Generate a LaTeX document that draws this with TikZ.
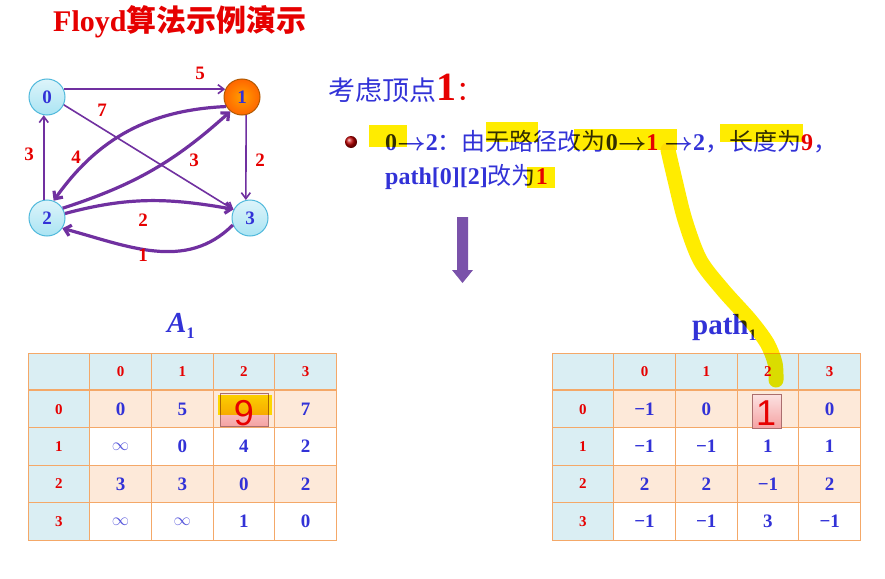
\documentclass[tikz,border=0pt]{standalone}
\usepackage{fontspec}
\setmainfont{Liberation Serif}
\newfontfamily\cjk{Noto Sans CJK SC}
\newfontfamily\sansnum{Liberation Sans}
\usepackage{tikz}
\usetikzlibrary{arrows.meta,calc}

\definecolor{edgepurple}{RGB}{112,48,160}
\definecolor{arrowpurple}{RGB}{122,82,170}
\definecolor{txtblue}{RGB}{50,50,215}
\definecolor{txtred}{RGB}{230,0,0}
\definecolor{hdrblue}{RGB}{218,238,243}
\definecolor{rowpeach}{RGB}{253,233,217}
\definecolor{gridorange}{RGB}{244,168,104}
\definecolor{hilite}{RGB}{255,236,0}
\definecolor{infblue}{RGB}{90,90,220}
\definecolor{nodecyan}{RGB}{170,228,243}
\definecolor{nodeborder}{RGB}{80,185,220}
\definecolor{boxpink}{RGB}{242,140,140}
\definecolor{boxedge}{RGB}{170,110,110}

\newcommand{\fs}[1]{\fontsize{#1}{#1}\selectfont}
\newcommand{\infsym}{{\mdseries\color{infblue}$\infty$}}
\newcommand{\arr}{{\boldmath$\rightarrow$}}

\begin{document}
\begin{tikzpicture}[x=1pt,y=-1pt,
  vtx/.style={circle,minimum size=36pt,inner sep=0pt,draw=nodeborder,line width=1pt,
    top color=nodecyan!40,bottom color=nodecyan,font=\fs{19}\bfseries,text=txtblue},
  vtxhot/.style={vtx,draw=orange!70!black,inner color=orange!75!yellow,outer color=orange!80!red},
  wt/.style={font=\fs{19}\bfseries,text=txtred},
  thin edge/.style={draw=edgepurple,line width=1.6pt,-{Straight Barb[length=6pt,width=9pt]}},
  thick edge/.style={draw=edgepurple,line width=3.2pt,-{Straight Barb[length=6pt,width=11pt]}},
  hdr/.style={font=\fs{15}\bfseries,text=txtred},
  cell/.style={font=\fs{19}\bfseries,text=txtblue},
  grid/.style={draw=gridorange,line width=1pt},
  pickbox/.style={rectangle,draw=boxedge,line width=0.8pt,top color=boxpink!25,bottom color=boxpink!80,inner sep=0pt},
  picknum/.style={font=\sansnum\fs{36},text=txtred,inner sep=0pt},
  bulletball/.style={circle,minimum size=12pt,inner sep=0pt,ball color=red!75!black}]

\fill[white] (0,0) rectangle (885,578);
\useasboundingbox (0,0) rectangle (885,578);

% Title
\node[anchor=base west,inner sep=0pt,text=txtred] (title) at (53,32)
  {{\fs{30}\bfseries Floyd}{\cjk\fs{30}\bfseries 算法示例演示}};

% Graph
\node[vtx] (n0) at (47,97) {0};
\node[vtxhot] (n1) at (242,97) {1};
\node[vtx] (n2) at (47,218) {2};
\node[vtx] (n3) at (250,218) {3};

\draw[thin edge] (n0.25) -- (n1.155);
\draw[thin edge] (n0.-25) -- (n3.153);
\draw[thin edge] (n1.-77) -- (n3.103);
\draw[thin edge] (n2.100) -- (n0.-100);
\draw[thick edge] (n1.211) to[bend right=26] (n2.69);
\draw[thick edge] (n2.32) to[bend right=12] (n1.231);
\draw[thick edge] (n2.14) to[out=15,in=170] (n3.152);
\draw[thick edge] (n3.202) to[out=225,in=-15] (n2.-34);

\node[wt] (w01) at (200,73) {5};
\node[wt] (w03) at (102,110) {7};
\node[wt] (w13) at (260,160) {2};
\node[wt] (w20) at (29,154) {3};
\node[wt] (w12) at (76,157) {4};
\node[wt] (w21) at (194,160) {3};
\node[wt] (w23) at (143,220) {2};
\node[wt] (w32) at (143,255) {1};

% Explanation
\node[anchor=base west,inner sep=0pt,text=txtblue] (head) at (328,100)
  {{\cjk\fs{27}考虑顶点}{\fs{40}\bfseries\color{txtred}1}{\cjk\fs{27}\color{txtred}：}};
\node[bulletball] (bul) at (351,142) {};
\node[anchor=base west,inner sep=0pt,text=txtblue] (line1) at (385,150)
  {\fs{24}{\bfseries 0\arr2}{\cjk ：由无路径改为}{\bfseries 0\arr\textcolor{txtred}{1} \arr2}{\cjk ，长度为}{\bfseries\textcolor{txtred}{9}}{\cjk ，}};
\node[anchor=base west,inner sep=0pt,text=txtblue] (line2) at (385,184)
  {\fs{24}{\bfseries path[0][2]}{\cjk 改为}{\bfseries\textcolor{txtred}{1}}};

% Down arrow
\fill[arrowpurple] (457,217) -- (468,217) -- (468,270) -- (473,270) -- (462.5,283)
  -- (452,270) -- (457,270) -- cycle;

% Table captions
\node[anchor=base west,inner sep=0pt,text=txtblue] (capA) at (167,332)
  {{\fs{29}\bfseries\itshape A}\raisebox{-6pt}{\fs{16}\bfseries 1}};
\node[anchor=base west,inner sep=0pt,text=txtblue] (capP) at (692,334)
  {{\fs{29}\bfseries path}\raisebox{-6pt}{\fs{16}\bfseries 1}};

% Table A1
\begin{scope}[shift={(28,353)}]
  \fill[hdrblue] (0,0) rectangle (308.5,37.4);
  \fill[hdrblue] (0,37.4) rectangle (61.7,187);
  \fill[rowpeach] (61.7,37.4) rectangle (308.5,74.8);
  \fill[rowpeach] (61.7,112.2) rectangle (308.5,149.6);
  \foreach \c in {0,...,5} \draw[grid] ({61.7*\c},0) -- ({61.7*\c},187);
  \foreach \r in {0,2,3,4,5} \draw[grid] (0,{37.4*\r}) -- (308.5,{37.4*\r});
  \draw[grid,line width=2pt] (0,37.4) -- (308.5,37.4);
  \foreach \c in {0,...,3} {
    \node[hdr] (a-h\c) at ({61.7*(\c+1.5)},18.7) {\c};
    \node[hdr] (a-r\c) at (30.85,{37.4*(\c+1.5)}) {\c};
  }
  \foreach \vals [count=\r from 0] in {{0,5,{},7},{\infsym,0,4,2},{3,3,0,2},{\infsym,\infsym,1,0}}
    \foreach \v [count=\c from 0] in \vals
      \node[cell] (a-\r-\c) at ({61.7*(\c+1.5)},{37.4*(\r+1.5)}) {\v};
\end{scope}

% Table path1
\begin{scope}[shift={(552,353)}]
  \fill[hdrblue] (0,0) rectangle (308.5,37.4);
  \fill[hdrblue] (0,37.4) rectangle (61.7,187);
  \fill[rowpeach] (61.7,37.4) rectangle (308.5,74.8);
  \fill[rowpeach] (61.7,112.2) rectangle (308.5,149.6);
  \foreach \c in {0,...,5} \draw[grid] ({61.7*\c},0) -- ({61.7*\c},187);
  \foreach \r in {0,2,3,4,5} \draw[grid] (0,{37.4*\r}) -- (308.5,{37.4*\r});
  \draw[grid,line width=2pt] (0,37.4) -- (308.5,37.4);
  \foreach \c in {0,...,3} {
    \node[hdr] (p-h\c) at ({61.7*(\c+1.5)},18.7) {\c};
    \node[hdr] (p-r\c) at (30.85,{37.4*(\c+1.5)}) {\c};
  }
  \foreach \vals [count=\r from 0] in {{−1,0,{},0},{−1,−1,1,1},{2,2,−1,2},{−1,−1,3,−1}}
    \foreach \v [count=\c from 0] in \vals
      \node[cell] (p-\r-\c) at ({61.7*(\c+1.5)},{37.4*(\r+1.5)}) {\v};
\end{scope}

% Changed entries
\node[pickbox,minimum width=48pt,minimum height=33pt] (a-pick) at (244,409.5) {};
\node[picknum] (a-pick-t) at (244,413) {9};
\node[pickbox,minimum width=29pt,minimum height=34pt] (p-pick) at (766.5,411) {};
\node[picknum] (p-pick-t) at (766,413) {1};

% Marker strokes
\begin{scope}[blend mode=multiply]
  \fill[hilite] (369,125) rectangle (407,147);
  \fill[hilite] (486,122) rectangle (538,142);
  \fill[hilite] (574,129) rectangle (677,150);
  \fill[hilite] (720,124) rectangle (803,142);
  \fill[hilite] (527,167) rectangle (555,188);
  \fill[hilite] (218,395) rectangle (272,415);
  \draw[hilite,line width=15pt,line cap=round] plot[smooth] coordinates
    {(668,150) (675,180) (685,220) (700,260) (723,290) (750,320) (767,343) (775,363) (776,380)};
\end{scope}

\end{tikzpicture}
\end{document}
